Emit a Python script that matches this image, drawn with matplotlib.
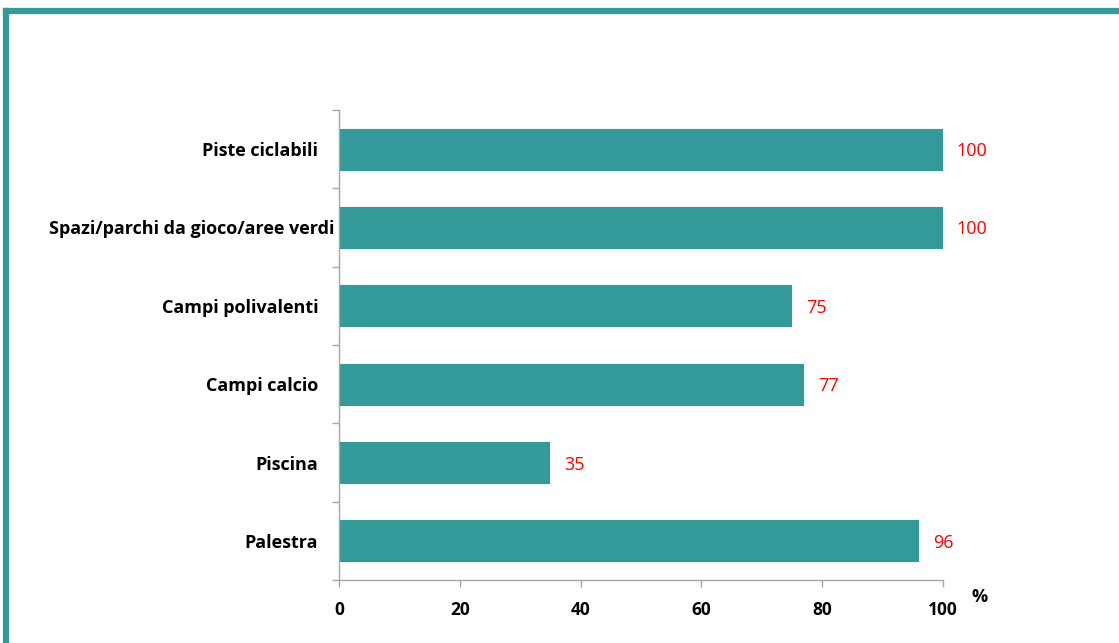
import matplotlib.pyplot as plt
import matplotlib.transforms as mtransforms
from matplotlib.lines import Line2D

categories = ['Piste ciclabili', 'Spazi/parchi da gioco/aree verdi', 'Campi polivalenti',
              'Campi calcio', 'Piscina', 'Palestra']
values = [100, 100, 75, 77, 35, 96]
xticks = [0, 20, 40, 60, 80, 100]

teal = '#339999'
plt.rcParams['font.family'] = ['Open Sans', 'DejaVu Sans']

fig = plt.figure(figsize=(11.19, 6.43), dpi=100)
ax = fig.add_axes([339 / 1119, 1 - 580 / 643, (943 - 339) / 1119, (580 - 110) / 643])

# frame of the slide: left and top border only
W, H = 1119, 643
fig.add_artist(Line2D([5.5 / W, 5.5 / W], [0, 1 - 10.5 / H], color=teal, lw=4.5,
                      transform=fig.transFigure, solid_capstyle='projecting'))
fig.add_artist(Line2D([5.5 / W, 1], [1 - 10.5 / H, 1 - 10.5 / H], color=teal, lw=4.5,
                      transform=fig.transFigure, solid_capstyle='projecting'))

pos = list(range(len(categories)))[::-1]
ax.barh(pos, values, height=0.55, color=teal, edgecolor='white', linewidth=0.6)
for p, v in zip(pos, values):
    ax.text(v + 2.3, p, str(v), color='red', va='center_baseline', ha='left', fontsize=13)

ax.set_xlim(0, 100)
ax.set_ylim(-0.5, len(categories) - 0.5)
ax.set_xticks(xticks)
ax.set_xticklabels([str(t) for t in xticks], fontsize=12.5, fontweight='bold')
ax.set_yticks(pos)
ax.set_yticklabels(categories, fontsize=13, fontweight='bold')
ax.set_yticks([i - 0.5 for i in range(len(categories) + 1)], minor=True)
ax.tick_params(axis='y', which='major', length=0, pad=15)
ax.tick_params(axis='y', which='minor', length=5, color='#a6a6a6', width=1)
ax.tick_params(axis='x', length=5, color='#a6a6a6', width=1, pad=10)

# the long label sticks out to the right, as in the original
for lab in ax.get_yticklabels():
    if lab.get_text().startswith('Spazi'):
        lab.set_transform(lab.get_transform() + mtransforms.ScaledTranslation(16 / 100, 0, fig.dpi_scale_trans))

for s in ['top', 'right']:
    ax.spines[s].set_visible(False)
for s in ['left', 'bottom']:
    ax.spines[s].set_color('#a6a6a6')
    ax.spines[s].set_linewidth(1)

fig.text(980 / W, 1 - 597 / H, '%', fontsize=13, fontweight='bold', ha='center', va='center')

fig.savefig('out.png', dpi=100)
